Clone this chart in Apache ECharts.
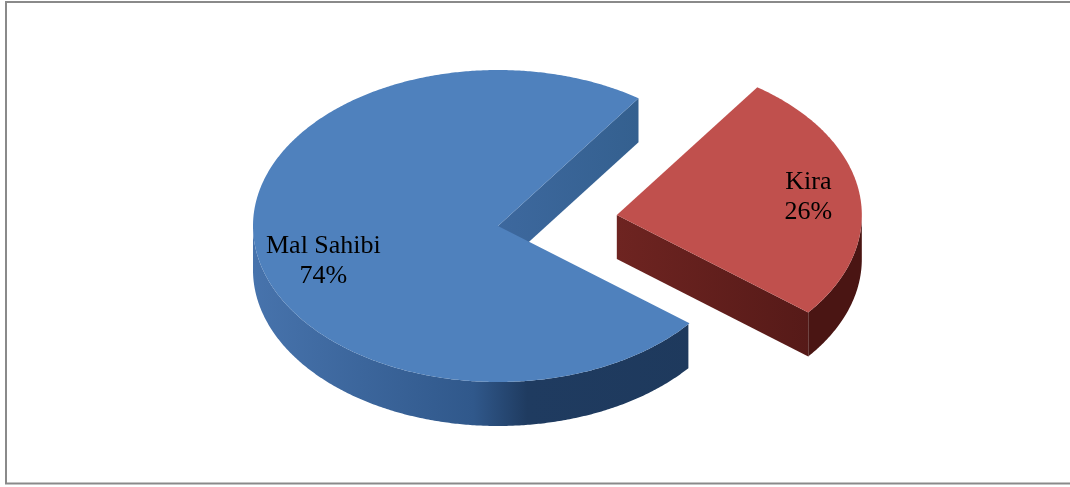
<!DOCTYPE html>
<html>
<head>
<meta charset="utf-8">
<script src="https://cdn.jsdelivr.net/npm/echarts@6/dist/echarts.min.js"></script>
<style>
  html, body { margin: 0; padding: 0; background: #ffffff; }
  #chart { width: 1070px; height: 487px; }
</style>
</head>
<body>
<div id="chart"></div>
<script>
// Shares of the two groups (percent)
const categories = ['Mal Sahibi', 'Kira'];
const shares = [74, 26];

// Tilted-disc geometry for the 3D pie
const CX = 498, CY = 226;      // centre of the top face
const RX = 245, RY = 156;      // ellipse radii of the top face
const DEPTH = 44;              // thickness of the disc
const START_ANGLE = 55;        // degrees, counter-clockwise from 3 o'clock

// Look of each slice
const sliceStyle = {
  'Mal Sahibi': {
    explode: 0,
    top: '#4F81BD',
    cut: ['#3D689E', '#34608F'],
    wall: [[0, '#4773AC'], [0.45, '#30588B'], [0.56, '#1F3B60'], [1, '#1E395C']],
    labelRadius: 0.72, labelDy: 19
  },
  'Kira': {
    explode: 0.49,
    top: '#C0504D',
    cut: ['#6E2421', '#561A18'],
    wall: [[0, '#5A1B19'], [1, '#4A1513']],
    labelRadius: 0.79, labelDy: 0
  }
};

const total = shares.reduce((a, b) => a + b, 0);
const rad = d => d * Math.PI / 180;

function renderItem(params, api) {
  const i = params.dataIndex;
  const name = categories[i];
  const st = sliceStyle[name];
  const value = api.value(0);
  let before = 0;
  for (let j = 0; j < i; j++) before += shares[j];
  const a0 = START_ANGLE + before / total * 360;
  const a1 = a0 + value / total * 360;
  const mid = rad((a0 + a1) / 2);
  const cx = CX + st.explode * RX * Math.cos(mid);
  const cy = CY - st.explode * RY * Math.sin(mid);
  const pt = (deg, dy) => [cx + RX * Math.cos(rad(deg)), cy - RY * Math.sin(rad(deg)) + (dy || 0)];

  const children = [];
  const cutFill = () => new echarts.graphic.LinearGradient(0, 0, 1, 0, [
    { offset: 0, color: st.cut[0] }, { offset: 1, color: st.cut[1] }
  ]);

  // radial cut faces that turn towards the viewer
  if (Math.cos(rad(a0)) > 0) {
    children.push({ type: 'polygon', shape: { points: [[cx, cy], pt(a0), pt(a0, DEPTH), [cx, cy + DEPTH]] },
      style: { fill: cutFill() } });
  }
  if (Math.cos(rad(a1)) < 0) {
    children.push({ type: 'polygon', shape: { points: [[cx, cy], pt(a1), pt(a1, DEPTH), [cx, cy + DEPTH]] },
      style: { fill: cutFill() } });
  }

  // curved outer wall, front half only
  const step = 0.5;
  let run = [];
  const runs = [];
  for (let a = a0; a <= a1 + 1e-9; a += step) {
    const aa = Math.min(a, a1);
    if (Math.sin(rad(aa)) <= 0) run.push(aa);
    else if (run.length) { runs.push(run); run = []; }
  }
  if (run.length) runs.push(run);
  const wallFill = new echarts.graphic.LinearGradient(CX - RX, 0, CX + RX, 0,
    st.wall.map(s => ({ offset: s[0], color: s[1] })), true);
  runs.forEach(r => {
    if (r.length < 2) return;
    const pts = r.map(a => pt(a)).concat(r.slice().reverse().map(a => pt(a, DEPTH)));
    children.push({ type: 'polygon', shape: { points: pts }, style: { fill: wallFill } });
  });

  // top face
  const topPts = [[cx, cy]];
  for (let a = a0; a < a1; a += step) topPts.push(pt(a));
  topPts.push(pt(a1));
  children.push({ type: 'polygon', shape: { points: topPts }, style: { fill: st.top } });

  // label: name and percentage
  const lx = cx + st.labelRadius * RX * Math.cos(mid);
  const ly = cy - st.labelRadius * RY * Math.sin(mid) + st.labelDy;
  children.push({
    type: 'text',
    style: {
      text: name + '\n' + Math.round(value / total * 100) + '%',
      x: lx, y: ly,
      align: 'center', verticalAlign: 'middle',
      font: '26px "Liberation Serif", "Times New Roman", serif',
      lineHeight: 30,
      fill: '#000000'
    }
  });

  return { type: 'group', children: children };
}

const chart = echarts.init(document.getElementById('chart'), null, { renderer: 'canvas' });
chart.setOption({
  animation: false,
  backgroundColor: '#ffffff',
  graphic: [{
    type: 'rect',
    shape: { x: 6, y: 2, width: 1070, height: 481.5 },
    style: { fill: 'none', stroke: '#8a8a8a', lineWidth: 2 },
    silent: true
  }],
  series: [{
    type: 'custom',
    coordinateSystem: 'none',
    renderItem: renderItem,
    data: shares.map((v, i) => ({ name: categories[i], value: [v] }))
  }]
});
</script>
</body>
</html>
